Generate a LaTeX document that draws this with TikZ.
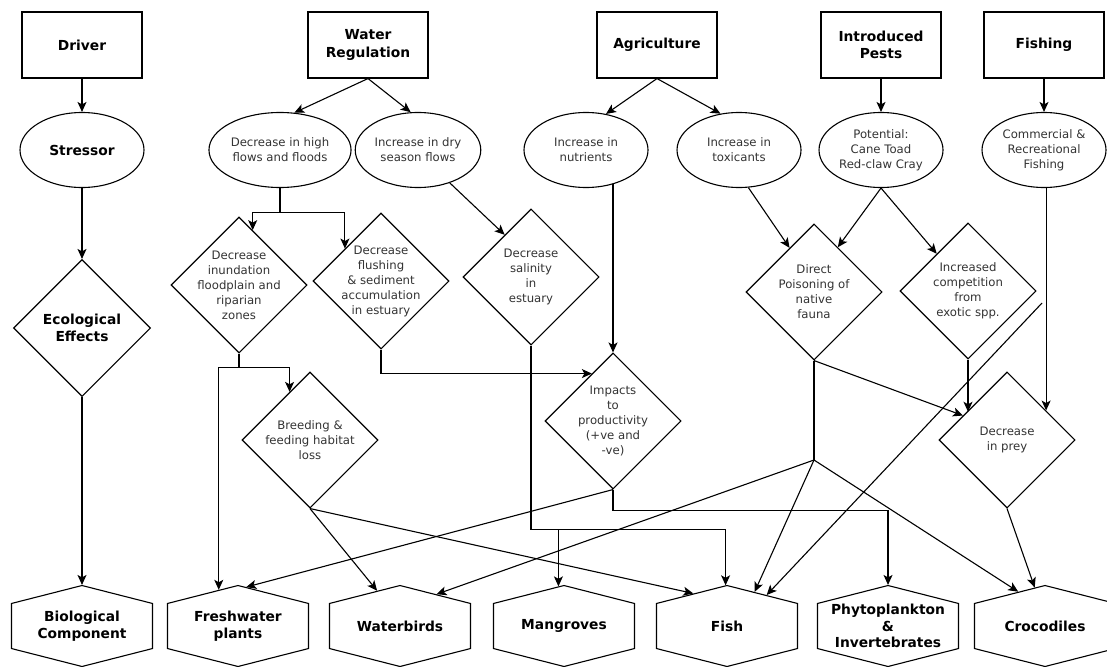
\documentclass[tikz,border=0pt]{standalone}
\usepackage{fontspec}
\setmainfont{DejaVu Sans}
\usepackage{tikz}
\usetikzlibrary{arrows.meta}
\usetikzlibrary{shapes.geometric,shapes.symbols}
\tikzset{
    driver/.style={
      rectangle,
           draw=black, line width=1.1pt,
           inner sep=2pt,
           align=center,
           font=\fontsize{13.8}{17.5}\selectfont\bfseries,
           minimum width=120pt,
           minimum height=66pt,
           },
}
\tikzset{
    stressor/.style={
      ellipse,
           draw=black, line width=1.1pt,
           inner sep=1pt,
           align=center,
           text=black!80,
           font=\fontsize{11.7}{15}\selectfont,
           minimum width=124pt,
           minimum height=75pt,
           },
}
\tikzset{
    effect/.style={
      diamond,
           draw=black, line width=1.1pt,
           inner sep=-6pt,
           align=center,
           text=black!80,
           font=\fontsize{11.7}{15}\selectfont,
           minimum size=136pt,
           },
}
\tikzset{
    component/.style={
      signal, signal to=north and south,
           signal pointer angle=151.4,
           draw=black, line width=1.1pt,
           inner sep=0pt,
           text width=141pt,
           align=center,
           font=\fontsize{13.8}{16.5}\selectfont\bfseries,
           minimum width=141pt,
           minimum height=81pt,
           },
}
\tikzset{
    legend/.style={
           text=black,
           font=\fontsize{13.8}{17.5}\selectfont\bfseries,
           },
}
\tikzset{
    link/.style={->,line width=1.1pt},
}

\begin{document}
\begin{tikzpicture}[x=1pt,y=-1pt,>={Stealth[length=10pt,width=9pt,inset=2.5pt]}]

\useasboundingbox (0,0) rectangle (1107,666);

% drivers
\node[driver](drv) at (82,45){Driver};
\node[driver](wat) at (368,45){Water\\Regulation};
\node[driver](agr) at (657,45){Agriculture};
\node[driver](pes) at (881,45){Introduced\\Pests};
\node[driver](fis) at (1044,45){Fishing};

% stressors
\node[stressor,legend](str) at (82,150){Stressor};
\node[stressor](dhf) at (280,150){Decrease in high\\flows and floods};
\node[stressor](ids) at (418,150){Increase in dry\\season flows};
\node[stressor](nut) at (586,150){Increase in\\nutrients};
\node[stressor](tox) at (739,150){Increase in\\toxicants};
\node[stressor](pot) at (881,150){Potential:\\Cane Toad\\Red-claw Cray};
\node[stressor](com) at (1044,150){Commercial \&\\Recreational\\Fishing};

\path (drv) edge[link](str);
\path (wat.south) edge[link](dhf.69);
\path (wat.south) edge[link](ids.101);
\path (agr.south) edge[link](nut.61);
\path (agr.south) edge[link](tox.117);
\path (pes) edge[link](pot);
\path (fis) edge[link](com);

% ecological effects
\node[effect,legend,minimum size=137pt](eco) at (82,328){Ecological\\Effects};
\node[effect](inu) at (239,285){Decrease\\inundation\\floodplain and\\riparian\\zones};
\node[effect](flu) at (381,281){Decrease\\flushing\\\& sediment\\accumulation\\in estuary};
\node[effect](sal) at (531,277){Decrease\\salinity\\in\\estuary};
\node[effect](poi) at (814,292){Direct\\Poisoning of\\native\\fauna};
\node[effect](cmp) at (968,291){Increased\\competition\\from\\exotic spp.};
\node[effect](bre) at (310,440){Breeding \&\\feeding habitat\\loss};
\node[effect](imp) at (613,421){Impacts\\to\\productivity\\(+ve and\\-ve)};
\node[effect](pre) at (1007,440){Decrease\\in prey};

\path (str) edge[link](eco);
\draw[link] (dhf.south) -- ++(0,24) -| (inu.76);
\draw[link] (dhf.south) -- ++(0,24) -| (flu.138);
\path (ids.-46) edge[link](sal.122);
\draw[link] (imp.north |- nut.-51) -- (imp.north);
\path (tox.-76) edge[link](poi.119);
\path (pot.south) edge[link](poi.62);
\path (pot.south) edge[link](cmp.130);
\draw[link] (pre.37 |- com.south) -- (pre.37);
\draw[link] (cmp.south) -- (cmp.south |- pre.145);
\path (poi.south) edge[link](pre.151);
\draw[link] (flu.south) |- (imp.114);
\draw[link] (inu.south) -- ++(0,14) -| (bre.113);

% biological components
\node[component](bio) at (82,626){Biological\\Component};
\node[component](fre) at (238,626){Freshwater\\plants};
\node[component](wbd) at (400,626){Waterbirds};
\node[component](man) at (564,626){Mangroves};
\node[component](fsh) at (727,626){Fish};
\node[component](phy) at (888,626){Phytoplankton\\\&\\Invertebrates};
\node[component](cro) at (1045,626){Crocodiles};

\coordinate (pj) at (814,460);
\coordinate (fj) at (1042,303);

\path (eco) edge[link](bio);
\draw[link] (inu.south) -- ++(0,14) -| (fre.118);
\path (bre.south) edge[link](wbd.123) edge[link](fsh.136);
\draw[link] (sal.south) -- ++(0,184) -| (man.98);
\draw[link] (sal.south) -- ++(0,184) -| (fsh.92);
\path (imp.south) edge[link](fre.78);
\draw[link] (imp.south) -- ++(0,21) -| (phy.90);
\draw[line width=1.1pt] (poi.south) -- (pj);
\path (pj) edge[link](wbd.41) edge[link](fsh.51) edge[link](cro.128);
\path (fj) edge[link](fsh.38);
\path (pre.south) edge[link](cro.105);

\end{tikzpicture}
\end{document}
